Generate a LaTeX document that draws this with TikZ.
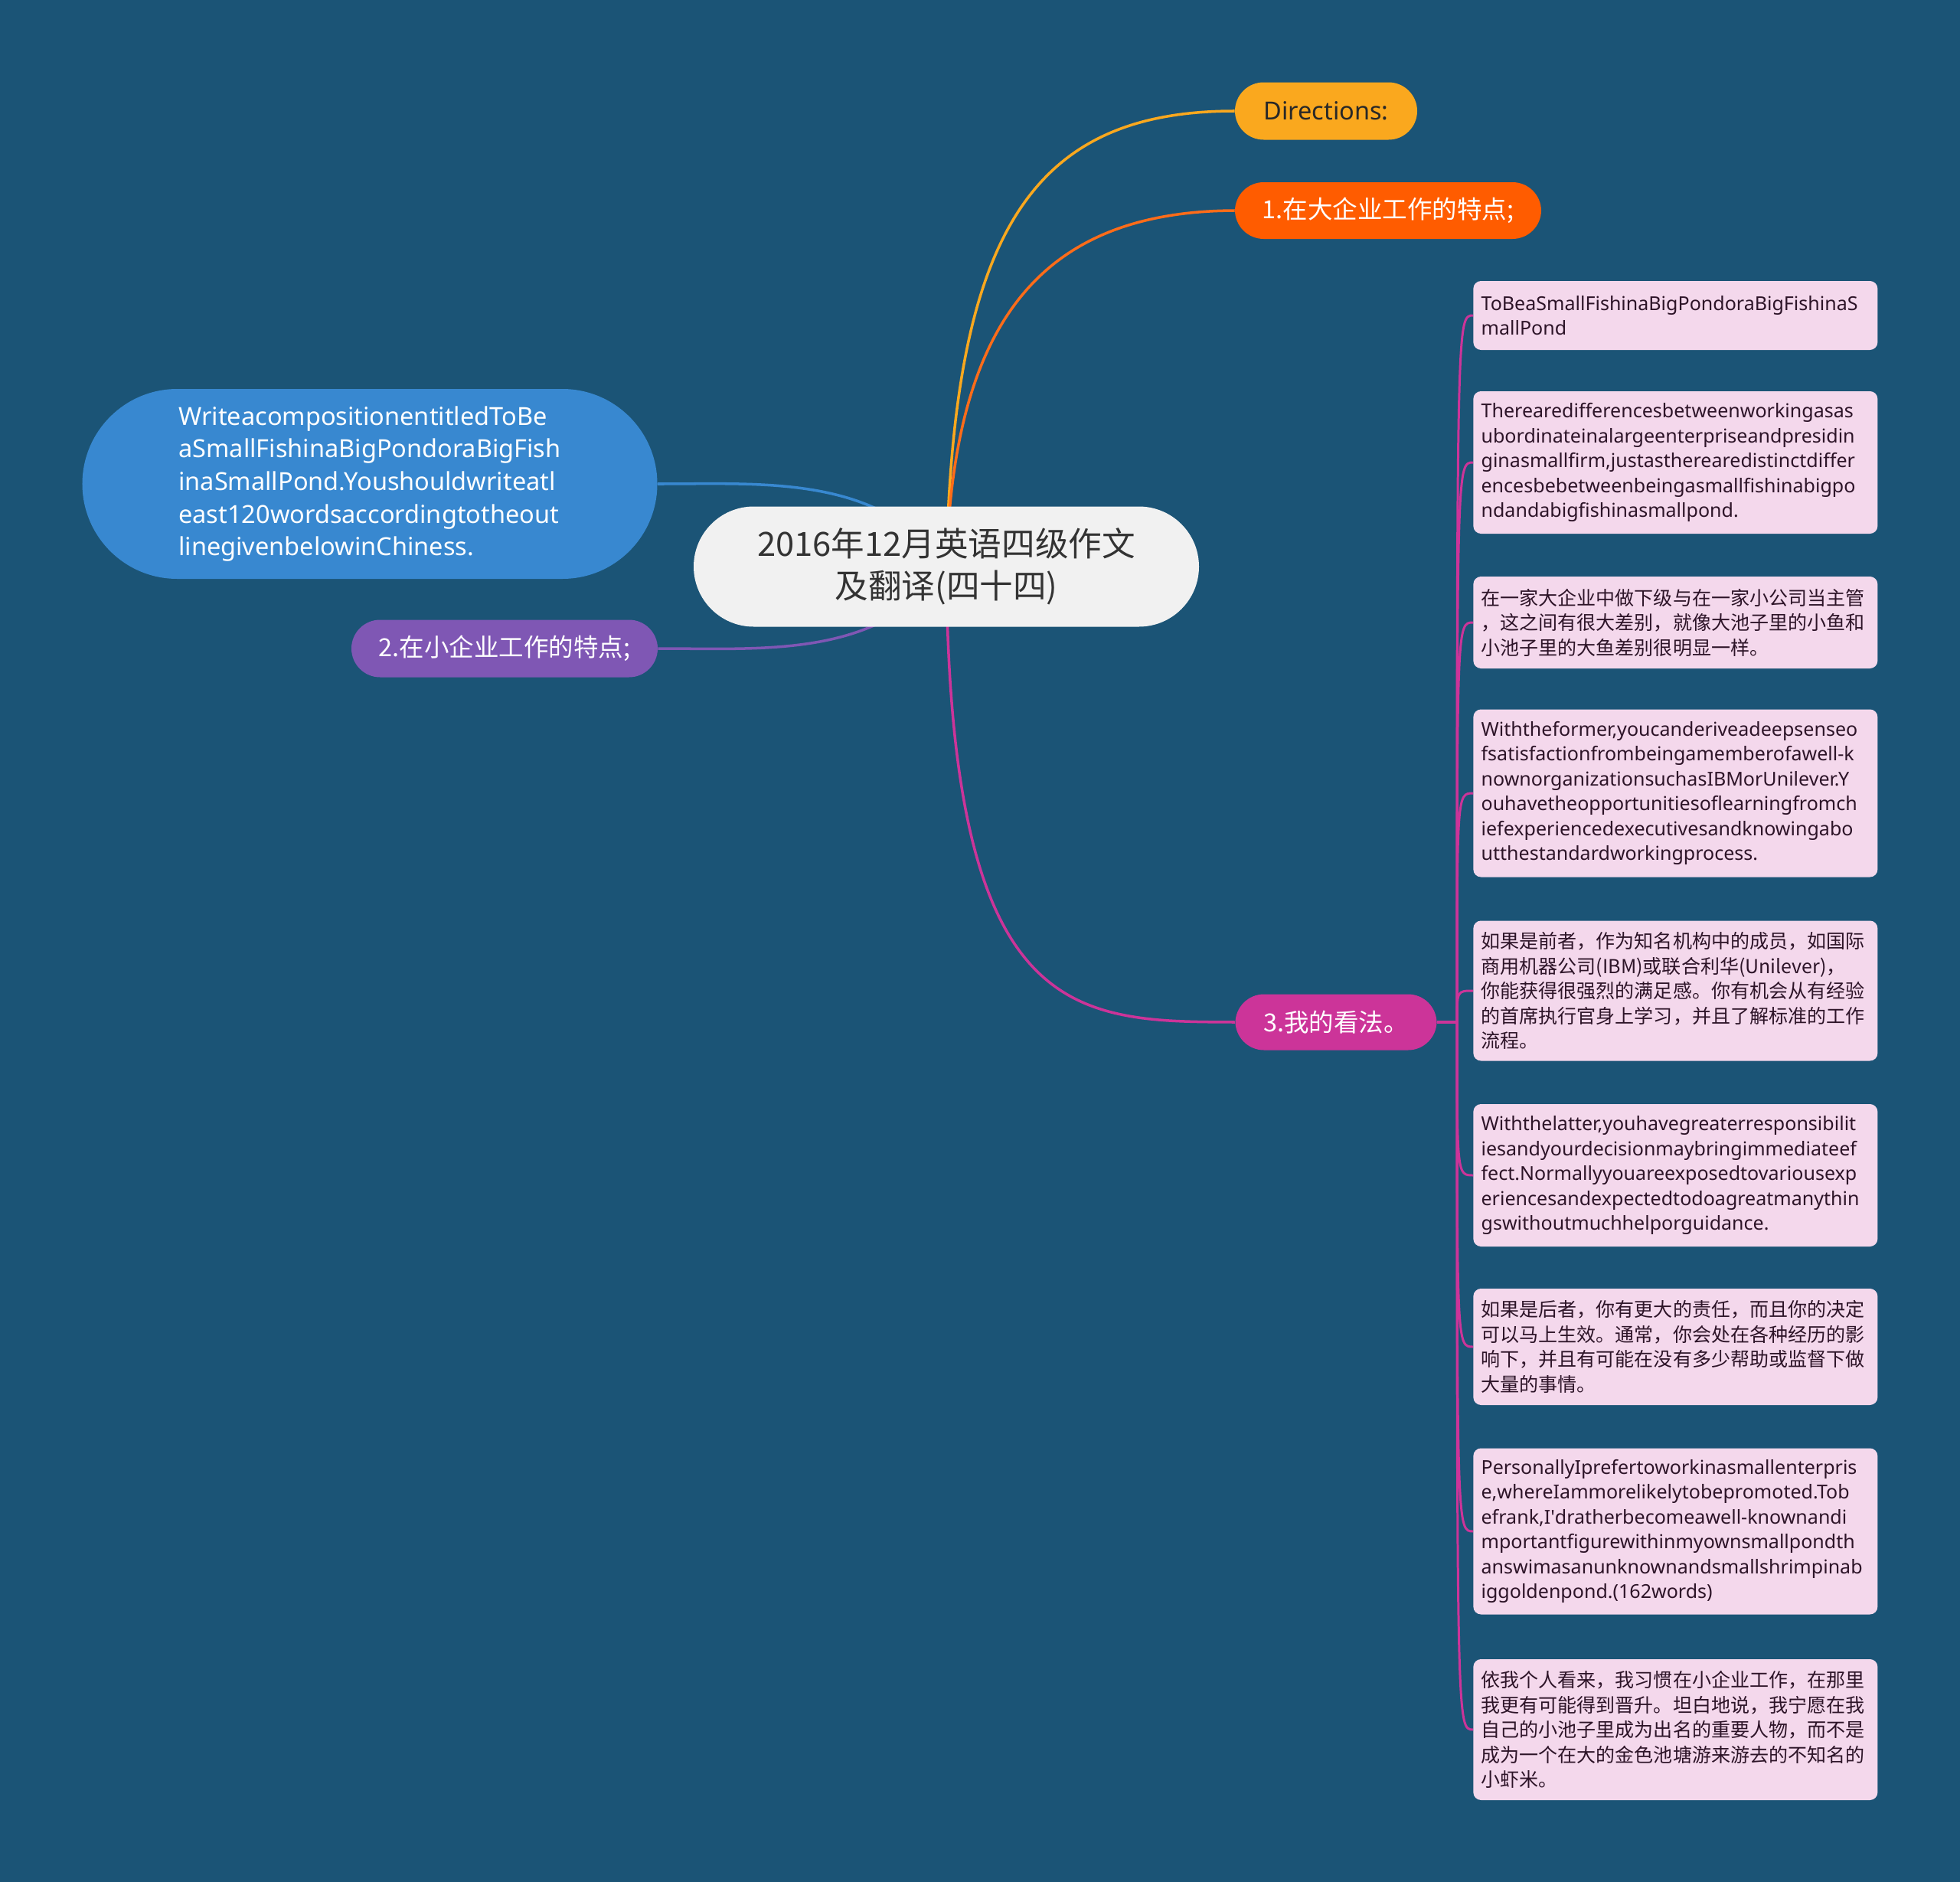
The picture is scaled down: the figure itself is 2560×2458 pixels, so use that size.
\documentclass[tikz,border=0pt]{standalone}
\usepackage{fontspec}
\newfontfamily\cjk{Noto Sans CJK SC}
\newfontfamily\latin{Noto Sans}
\usetikzlibrary{backgrounds}
\hyphenpenalty=10000
\exhyphenpenalty=10000

\definecolor{bgblue}{HTML}{1B5476}
\definecolor{rootfill}{HTML}{F1F1F1}
\definecolor{roottext}{HTML}{333333}
\definecolor{dircol}{RGB}{250,168,30}
\definecolor{bigcol}{RGB}{255,92,0}
\definecolor{introcol}{RGB}{56,136,208}
\definecolor{smallcol}{RGB}{127,87,180}
\definecolor{viewcol}{RGB}{204,52,153}
\definecolor{leafpink}{RGB}{244,216,236}
\definecolor{leaftext}{RGB}{45,20,40}

\begin{document}
\begin{tikzpicture}[
  x=0.2mm, y=-0.2mm,
  topic/.style={rectangle, align=center, inner sep=0pt, minimum height=15mm,
    rounded corners=7.5mm, text=white, font=\cjk\fontsize{18.5}{24.3}\selectfont},
  leaf/.style={rectangle, fill=leafpink, rounded corners=2mm, anchor=west,
    text width=101.5mm, align=left, inner xsep=2.05mm, inner ysep=0pt,
    text=leaftext, font=\cjk\fontsize{14.25}{18.5}\selectfont},
  engleaf/.style={leaf, font=\latin\fontsize{14.25}{18.5}\selectfont},
  branch/.style={line width=2pt},
  twig/.style={viewcol, line width=1.7pt}
]
  \node[rectangle, fill=rootfill, text=roottext, align=center, inner sep=0pt,
    minimum width=132mm, minimum height=31.4mm, rounded corners=15.7mm,
    font=\cjk\fontsize{24.8}{31.5}\selectfont]
    (root) at (1236,740) {2016年12月英语四级作文\\及翻译(四十四)};

  \node[rectangle, fill=introcol, text=white, align=left, inner sep=0pt,
    minimum width=150.2mm, minimum height=49.6mm, rounded corners=24.8mm,
    font=\latin\fontsize{18.5}{24.3}\selectfont]
    (intro) at (483,632) {WriteacompositionentitledToBe\\aSmallFishinaBigPondoraBigFish\\inaSmallPond.Youshouldwriteatl\\east120wordsaccordingtotheout\\linegivenbelowinChiness.};

  \node[topic, fill=dircol, text={rgb,255:red,40;green,40;blue,40}, minimum width=47.6mm,
    font=\latin\fontsize{18.5}{24.3}\selectfont] (dir) at (1732,145) {Directions:};
  \node[topic, fill=bigcol, minimum width=80mm, minimum height=14.8mm] (big1) at (1813,275) {1.在大企业工作的特点;};
  \node[topic, fill=smallcol, minimum width=80mm] (big2) at (659,847) {2.在小企业工作的特点;};
  \node[topic, fill=viewcol, minimum width=52.6mm, minimum height=14.6mm] (view) at (1745,1335) {3.我的看法。};
  \coordinate (fork) at (1903,1335);

  \node[engleaf, minimum height=18mm] (p1) at (1924,412)
    {ToBeaSmallFishinaBigPondoraBigFishinaS\\mallPond};
  \node[engleaf, minimum height=37.2mm] (p2) at (1924,604)
    {Therearedifferencesbetweenworkingasas\\ubordinateinalargeenterpriseandpresidin\\ginasmallfirm,justastherearedistinctdiffer\\encesbebetweenbeingasmallfishinabigpo\\ndandabigfishinasmallpond.};
  \node[leaf, minimum height=24mm] (p3) at (1924,813)
    {在一家大企业中做下级与在一家小公司当主管\\，这之间有很大差别，就像大池子里的小鱼和\\小池子里的大鱼差别很明显一样。};
  \node[engleaf, minimum height=43.8mm] (p4) at (1924,1036)
    {Withtheformer,youcanderiveadeepsenseo\\fsatisfactionfrombeingamemberofawell-k\\nownorganizationsuchasIBMorUnilever.Y\\ouhavetheopportunitiesoflearningfromch\\iefexperiencedexecutivesandknowingabo\\utthestandardworkingprocess.};
  \node[leaf, minimum height=36.6mm] (p5) at (1924,1294)
    {如果是前者，作为知名机构中的成员，如国际\\商用机器公司(IBM)或联合利华(Unilever)，\\你能获得很强烈的满足感。你有机会从有经验\\的首席执行官身上学习，并且了解标准的工作\\流程。};
  \node[engleaf, minimum height=37.2mm] (p6) at (1924,1535)
    {Withthelatter,youhavegreaterresponsibilit\\iesandyourdecisionmaybringimmediateef\\fect.Normallyyouareexposedtovariousexp\\eriencesandexpectedtodoagreatmanythin\\gswithoutmuchhelporguidance.};
  \node[leaf, minimum height=30.4mm] (p7) at (1924,1759)
    {如果是后者，你有更大的责任，而且你的决定\\可以马上生效。通常，你会处在各种经历的影\\响下，并且有可能在没有多少帮助或监督下做\\大量的事情。};
  \node[engleaf, minimum height=43.4mm] (p8) at (1924,2000)
    {PersonallyIprefertoworkinasmallenterpris\\e,whereIammorelikelytobepromoted.Tob\\efrank,I\textquotesingle dratherbecomeawell-knownandi\\mportantfigurewithinmyownsmallpondth\\answimasanunknownandsmallshrimpinab\\iggoldenpond.(162words)};
  \node[leaf, minimum height=36.8mm] (p9) at (1924,2259)
    {依我个人看来，我习惯在小企业工作，在那里\\我更有可能得到晋升。坦白地说，我宁愿在我\\自己的小池子里成为出名的重要人物，而不是\\成为一个在大的金色池塘游来游去的不知名的\\小虾米。};

  \begin{scope}[on background layer]
    \fill[bgblue] (0,0) rectangle (2560,2458);
    \draw[branch, dircol] (root.center) .. controls (1245,300) and (1350,145) .. (dir.west);
    \draw[branch, bigcol!90!white] (root.center) .. controls (1245,420) and (1360,276) .. (big1.west);
    \draw[branch, introcol] (root.center) .. controls (1150,620) and (1000,632) .. (intro.east);
    \draw[branch, smallcol] (root.center) .. controls (1150,860) and (1000,847) .. (big2.east);
    \draw[branch, viewcol] (root.center) .. controls (1240,1334) and (1400,1334) .. (view.west);
    \draw[branch, viewcol] (view.east) -- (fork);
    \foreach \i in {1,...,9}
      \draw[twig] (fork) .. controls (fork |- p\i.west) and (fork |- p\i.west) .. (p\i.west);
  \end{scope}
\end{tikzpicture}
\end{document}
